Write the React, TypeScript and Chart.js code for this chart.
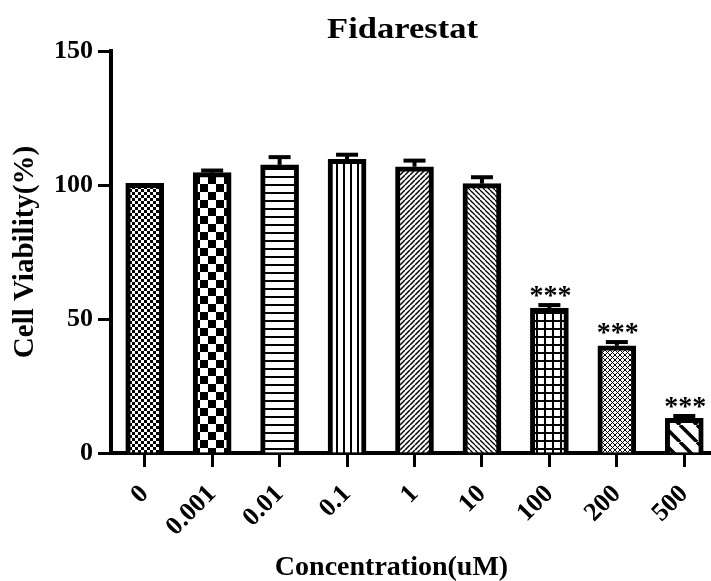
import { useEffect, useRef } from 'react';
import { Chart, registerables } from 'chart.js';

Chart.register(...registerables);

// ---- data ----
const categories = ['0', '0.001', '0.01', '0.1', '1', '10', '100', '200', '500'];
const viability = [100.6, 104.6, 107.5, 109.6, 106.8, 100.5, 54.1, 40.0, 12.9];
const sem = [0, 0.8, 2.9, 1.7, 2.3, 2.4, 1.1, 1.4, 0.9];
const significance = ['', '', '', '', '', '', '***', '***', '***'];
const yTickValues = [0, 50, 100, 150];
const chartTitle = 'Fidarestat';
const xAxisTitle = 'Concentration(uM)';
const yAxisTitle = 'Cell Viability(%)';

// ---- styles ----
const patternKinds = [
  'fineChecker',
  'checker',
  'hLines',
  'vLines',
  'diagUp',
  'diagDown',
  'grid',
  'crossFine',
  'diagDownWide',
];
const FONT = '"Liberation Serif", "Times New Roman", serif';

function makePattern(kind: string): CanvasPattern | string {
  const c = document.createElement('canvas');
  const ctx = c.getContext('2d');
  if (!ctx) return '#fff';
  const setup = (s: number) => {
    c.width = s;
    c.height = s;
    ctx.fillStyle = '#fff';
    ctx.fillRect(0, 0, s, s);
    ctx.fillStyle = '#000';
    ctx.strokeStyle = '#000';
  };
  const diag = (s: number, lw: number, dir: 'up' | 'down') => {
    ctx.lineWidth = lw;
    for (let k = -1; k <= 1; k++) {
      ctx.beginPath();
      if (dir === 'up') {
        ctx.moveTo(k * s, s);
        ctx.lineTo(k * s + s, 0);
      } else {
        ctx.moveTo(k * s, 0);
        ctx.lineTo(k * s + s, s);
      }
      ctx.stroke();
    }
  };
  switch (kind) {
    case 'fineChecker':
      setup(6);
      ctx.fillRect(0, 0, 3, 3);
      ctx.fillRect(3, 3, 3, 3);
      break;
    case 'checker':
      setup(16);
      ctx.fillRect(0, 0, 8, 8);
      ctx.fillRect(8, 8, 8, 8);
      break;
    case 'hLines':
      setup(8);
      ctx.fillRect(0, 0, 8, 2);
      break;
    case 'vLines':
      setup(7);
      ctx.fillRect(0, 0, 2, 7);
      break;
    case 'diagUp':
      setup(5);
      diag(5, 1.5, 'up');
      break;
    case 'diagDown':
      setup(5);
      diag(5, 1.3, 'down');
      break;
    case 'grid':
      setup(8);
      ctx.fillRect(0, 0, 8, 2);
      ctx.fillRect(0, 0, 2, 8);
      break;
    case 'crossFine':
      setup(5);
      diag(5, 1, 'up');
      diag(5, 1, 'down');
      break;
    case 'diagDownWide':
      setup(17);
      diag(17, 3.5, 'down');
      break;
    default:
      setup(4);
  }
  return ctx.createPattern(c, 'repeat') || '#fff';
}

const annotationPlugin = {
  id: 'barAnnotations',
  afterDatasetsDraw(chart: any) {
    const ctx = chart.ctx as CanvasRenderingContext2D;
    const meta = chart.getDatasetMeta(0);
    const y = chart.scales.y;
    ctx.save();
    ctx.strokeStyle = '#000';
    ctx.fillStyle = '#000';
    meta.data.forEach((bar: any, i: number) => {
      const err = sem[i];
      const topPx = y.getPixelForValue(viability[i] + err);
      if (err > 0) {
        ctx.lineWidth = 4;
        ctx.beginPath();
        ctx.moveTo(bar.x, bar.y);
        ctx.lineTo(bar.x, topPx);
        ctx.stroke();
        ctx.beginPath();
        ctx.moveTo(bar.x - 11, topPx);
        ctx.lineTo(bar.x + 11, topPx);
        ctx.stroke();
      }
      if (significance[i]) {
        ctx.font = `bold 28px ${FONT}`;
        ctx.textAlign = 'center';
        ctx.textBaseline = 'alphabetic';
        ctx.fillText(significance[i], bar.x + 1, topPx - 1);
      }
    });
    ctx.restore();
  },
  afterDraw(chart: any) {
    const ctx = chart.ctx as CanvasRenderingContext2D;
    const area = chart.chartArea;
    const cx = (area.left + area.right) / 2;
    ctx.save();
    ctx.fillStyle = '#000';
    ctx.textAlign = 'center';
    ctx.textBaseline = 'alphabetic';
    // main title (slightly wide lettering as in the reference)
    ctx.save();
    ctx.translate(cx - 12, area.top - 13);
    ctx.scale(1.15, 1);
    ctx.font = `bold 30px ${FONT}`;
    ctx.fillText(chartTitle, 0, 0);
    ctx.restore();
    ctx.font = `bold 28px ${FONT}`;
    ctx.fillText(xAxisTitle, cx - 23, chart.height - 6);
    ctx.restore();
  },
};

export default function App() {
  const canvasRef = useRef<HTMLCanvasElement | null>(null);

  useEffect(() => {
    if (!canvasRef.current) return;
    const chart = new Chart(canvasRef.current, {
      type: 'bar',
      data: {
        labels: categories,
        datasets: [
          {
            label: 'Cell Viability',
            data: viability,
            backgroundColor: patternKinds.map((k) => makePattern(k)) as any,
            borderColor: '#000',
            borderWidth: 5,
            borderSkipped: 'start',
            barThickness: 38,
          },
        ],
      },
      options: {
        animation: false,
        responsive: false,
        maintainAspectRatio: false,
        devicePixelRatio: 1,
        layout: { padding: { top: 51, left: 0, right: 0, bottom: 0 } },
        plugins: {
          legend: { display: false },
          title: { display: false },
          tooltip: { enabled: false },
        },
        scales: {
          x: {
            type: 'category',
            offset: true,
            grid: {
              offset: false,
              drawOnChartArea: false,
              drawTicks: true,
              tickLength: 14,
              tickWidth: 3,
              tickColor: '#000',
            },
            border: { display: true, width: 4, color: '#000' },
            ticks: {
              autoSkip: false,
              minRotation: 45,
              maxRotation: 45,
              padding: 12,
              color: '#000',
              font: { family: FONT, size: 26, weight: 'bold' },
            },
            afterFit: (scale: any) => {
              scale.height = 128;
              scale.paddingLeft = 0;
              scale.paddingRight = 0;
            },
          },
          y: {
            min: 0,
            max: 150,
            grid: {
              drawOnChartArea: false,
              drawTicks: true,
              tickLength: 13,
              tickWidth: 3,
              tickColor: '#000',
            },
            border: { display: true, width: 4, color: '#000' },
            afterBuildTicks: (axis: any) => {
              axis.ticks = yTickValues.map((v) => ({ value: v }));
            },
            ticks: {
              padding: 5,
              color: '#000',
              font: { family: FONT, size: 26, weight: 'bold' },
            },
            title: {
              display: true,
              text: yAxisTitle,
              color: '#000',
              padding: { top: 8, bottom: 0 },
              font: { family: FONT, size: 29, weight: 'bold' },
            },
            afterFit: (scale: any) => {
              scale.width = 111;
            },
          },
        },
      },
      plugins: [annotationPlugin],
    });
    return () => chart.destroy();
  }, []);

  return (
    <div
      style={{
        position: 'fixed',
        left: 0,
        top: 0,
        width: 711,
        height: 581,
        overflow: 'hidden',
        background: '#fff',
      }}
    >
      <canvas
        ref={canvasRef}
        width={718}
        height={581}
        style={{ display: 'block', width: 718, height: 581 }}
      />
    </div>
  );
}
